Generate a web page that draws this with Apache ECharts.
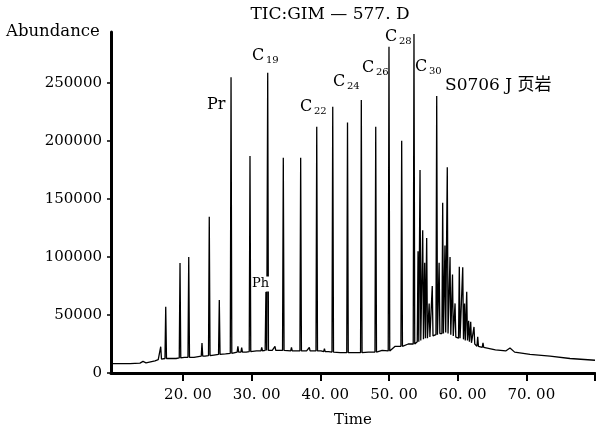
<!DOCTYPE html>
<html><head><meta charset="utf-8">
<script src="https://cdn.jsdelivr.net/npm/echarts@6/dist/echarts.min.js"></script>
<style>html,body{margin:0;padding:0;background:#fff}#c{width:596px;height:433px}</style>
</head><body><div id="c"></div>
<script>
// Baseline of the TIC trace (retention time, min / abundance)
const baselineTime = [9.52, 12.29, 13.74, 14.18, 14.62, 15.93, 16.40, 18.20, 19.00, 20.20, 21.60, 23.20, 24.50, 26.20, 28.30, 29.20, 30.70, 33.00, 34.00, 36.20, 38.00, 39.00, 40.10, 41.20, 42.90, 45.00, 47.00, 49.00, 50.90, 52.80, 53.95, 56.62, 59.93, 62.65, 63.30, 64.30, 65.50, 67.00, 67.62, 68.30, 70.54, 73.45, 76.36, 80.00];
const baselineAbundance = [8000, 8000, 8500, 10000, 8800, 10500, 11500, 12500, 12500, 13500, 13500, 14500, 15500, 16500, 18000, 18000, 19000, 19500, 19500, 19000, 19000, 19000, 19000, 18500, 17500, 17500, 18000, 19500, 23000, 25000, 26000, 33000, 30000, 24000, 22500, 21500, 20000, 19000, 21500, 18000, 16000, 14500, 12500, 11000];

// Peaks: apex time, apex abundance, abundance at the peak foot
const peakTime = [16.76, 17.49, 19.57, 20.84, 22.77, 23.83, 25.29, 27.00, 28.00, 28.55, 29.76, 31.47, 32.08, 32.34, 33.40, 34.61, 35.80, 37.14, 38.40, 39.48, 40.60, 41.81, 43.96, 45.97, 48.07, 50.00, 51.85, 53.64, 54.23, 54.52, 54.91, 55.20, 55.49, 55.85, 56.30, 56.95, 57.30, 57.82, 58.15, 58.49, 58.89, 59.25, 59.62, 60.24, 60.74, 61.00, 61.32, 61.60, 61.90, 62.38, 62.92, 63.69];
const peakAbundance = [22700, 57200, 94800, 100000, 25900, 134700, 62900, 254900, 23000, 22000, 187000, 22000, 70000, 258900, 23000, 185600, 22000, 185600, 22000, 212300, 21000, 229600, 216000, 235300, 212300, 281300, 200300, 292200, 105000, 175000, 123000, 95000, 116400, 60000, 75000, 238800, 95000, 146800, 110000, 177300, 100000, 85000, 60000, 91600, 91100, 60000, 70100, 45000, 44200, 39700, 31300, 25900];
const peakFoot = [12000, 12500, 13000, 13500, 14500, 15000, 16000, 17000, 18000, 18000, 18500, 19000, 19500, 19500, 19500, 19500, 19000, 19000, 19000, 19000, 18500, 18000, 17500, 17500, 18000, 19000, 23000, 25000, 27000, 28000, 29000, 30000, 30000, 31000, 32000, 33000, 34000, 34000, 35000, 34000, 33000, 32000, 31000, 30000, 29000, 28000, 28000, 27000, 26000, 25000, 23000, 22000];
const peakHalfWidth = 0.11;

const yTickValues = [0, 50000, 100000, 150000, 200000, 250000];
const xTickValues = [20, 30, 40, 50, 60, 70, 80];
const xLabelValues = [20, 30, 40, 50, 60, 70];
const xLabelTexts = ['20. 00', '30. 00', '40. 00', '50. 00', '60. 00', '70. 00'];

// build trace
const pts = [];
baselineTime.forEach((t, i) => pts.push([t, baselineAbundance[i]]));
peakTime.forEach((t, i) => {
  pts.push([t - peakHalfWidth, peakFoot[i]]);
  pts.push([t, peakAbundance[i]]);
  pts.push([t + peakHalfWidth, peakFoot[i]]);
});
pts.sort((a, b) => a[0] - b[0]);

const SERIF = '"DejaVu Serif", "Noto Sans CJK SC", serif';
function txt(text, x, y, size, opts) {
  return {
    type: 'text', x: x, y: y, z: 100,
    style: Object.assign({text: text, fill: '#000', fontSize: size, fontFamily: SERIF, align: 'left', verticalAlign: 'middle'}, opts || {})
  };
}
function cLabel(sub, x, y) {
  return [txt('C', x, y, 16), txt(sub, x + 14, y + 4, 10)];
}

const graphics = [
  txt('TIC:GIM — 577. D', 330, 15, 17, {align: 'center'}),
  txt('Abundance', 6, 32, 16.5),
  txt('Pr', 207, 105, 16),
  txt('Ph', 252, 284, 13, {backgroundColor: '#fff', padding: [1, 0, 1, 0]}),
  txt('S0706 J 页岩', 445, 86, 17),
].concat(cLabel('19', 252, 56), cLabel('22', 300, 107), cLabel('24', 333, 82), cLabel('26', 362, 68), cLabel('28', 385, 37), cLabel('30', 415, 67));

const chart = echarts.init(document.getElementById('c'), null, {renderer: 'canvas'});
chart.setOption({
  backgroundColor: '#fff',
  animation: false,
  grid: {left: 111, right: 1, top: 32, bottom: 60},
  xAxis: {
    type: 'value', min: 9.52, max: 80,
    axisLine: {lineStyle: {color: '#000', width: 3}},
    axisTick: {show: true, length: 8, lineStyle: {color: '#000', width: 2}, customValues: xTickValues},
    axisLabel: {customValues: xLabelValues, color: '#000', fontFamily: SERIF, fontSize: 15, margin: 15,
      padding: [0, 0, 0, 10],
      formatter: v => xLabelTexts[xLabelValues.indexOf(v)] || ''},
    splitLine: {show: false},
    name: 'Time', nameLocation: 'middle', nameGap: 40,
    nameTextStyle: {color: '#000', fontFamily: SERIF, fontSize: 15}
  },
  yAxis: {
    type: 'value', min: 0, max: 294000,
    axisLine: {show: true, lineStyle: {color: '#000', width: 3}},
    axisTick: {show: true, length: 4, lineStyle: {color: '#000', width: 1.5}, customValues: yTickValues},
    axisLabel: {customValues: yTickValues, color: '#000', fontFamily: SERIF, fontSize: 15, margin: 9,
      formatter: v => String(v)},
    splitLine: {show: false}
  },
  series: [{
    type: 'line', data: pts, showSymbol: false, symbol: 'none', silent: true,
    lineStyle: {color: '#000', width: 1.3}, sampling: null
  }],
  graphic: graphics
});
</script>
</body></html>
